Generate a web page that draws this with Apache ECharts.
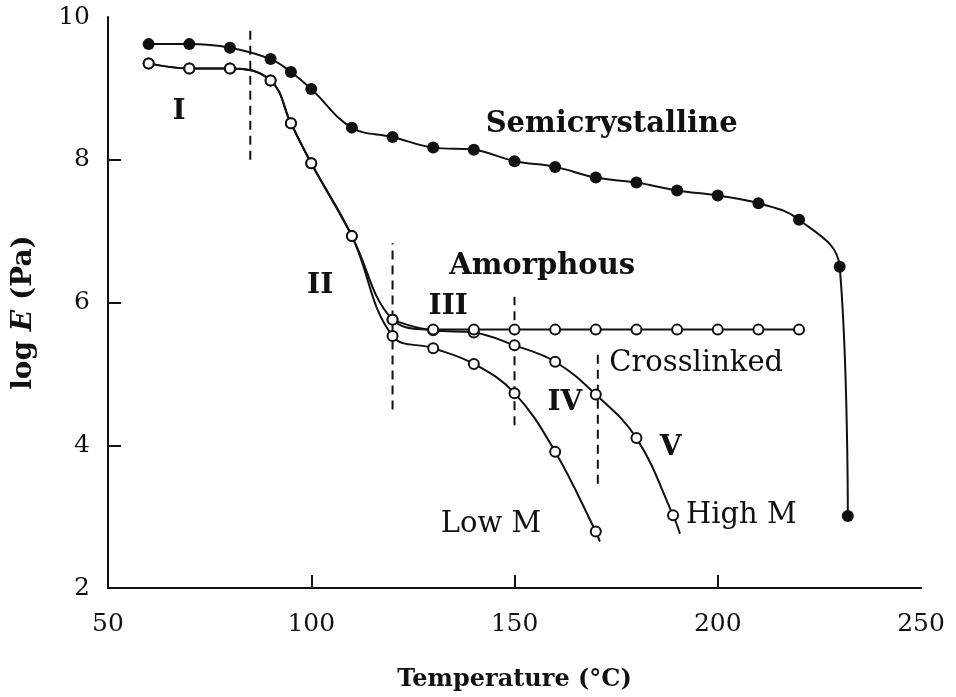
<!DOCTYPE html>
<html>
<head>
<meta charset="utf-8">
<script src="https://cdn.jsdelivr.net/npm/echarts@6/dist/echarts.min.js"></script>
<style>
  html, body { margin: 0; padding: 0; background: #fff; }
  #chart { width: 956px; height: 697px; }
</style>
</head>
<body>
<div id="chart"></div>
<script>
// Semicrystalline polymer: temperature (°C) and log E (Pa)
const semiT    = [60, 70, 80, 90, 95, 100, 110, 120, 130, 140, 150, 160, 170, 180, 190, 200, 210, 220, 230, 232];
const semiLogE = [9.62, 9.62, 9.57, 9.41, 9.23, 8.99, 8.45, 8.32, 8.17, 8.14, 7.98, 7.90, 7.75, 7.68, 7.57, 7.50, 7.39, 7.16, 6.50, 3.01];

// Amorphous polymer, common part (glassy region and glass transition)
const amorT    = [60, 70, 80, 90, 95, 100, 110];
const amorLogE = [9.35, 9.28, 9.28, 9.11, 8.51, 7.95, 6.93];

// Low molecular weight branch
const lowT    = [120, 130, 140, 150, 160, 170];
const lowLogE = [5.53, 5.36, 5.14, 4.73, 3.91, 2.79];
const lowTailT = 171, lowTailLogE = 2.65;

// High molecular weight branch
const highT    = [120, 130, 140, 150, 160, 170, 180, 189];
const highLogE = [5.76, 5.61, 5.58, 5.40, 5.17, 4.71, 4.10, 3.02];
const highTailT = 190.7, highTailLogE = 2.76;

// Crosslinked branch (rubbery plateau)
const crossT    = [120, 130, 140, 150, 160, 170, 180, 190, 200, 210, 220];
const crossLogE = [5.76, 5.62, 5.62, 5.62, 5.62, 5.62, 5.62, 5.62, 5.62, 5.62, 5.62];

// Region boundaries: temperature, lower and upper log E
const boundT    = [85, 120, 150, 170.5];
const boundLow  = [8.0, 4.5, 4.28, 3.46];
const boundHigh = [9.82, 6.83, 6.08, 5.33];

// Text annotations placed in data coordinates
const noteText = ['I', 'II', 'III', 'IV', 'V', 'Semicrystalline', 'Amorphous', 'Crosslinked', 'High M', 'Low M'];
const noteT    = [67.5, 102.2, 133.7, 162.4, 188.4, 173.9, 156.8, 194.7, 205.8, 144.2];
const noteLogE = [8.67, 6.23, 5.94, 4.59, 3.97, 8.49, 6.50, 5.15, 3.02, 2.89];
const noteBold = [true, true, true, true, true, true, true, false, false, false];

// Axis ticks
const xTicks = [100, 150, 200];
const xLabels = [50, 100, 150, 200, 250];
const yTicks = [4, 6, 8];
const yLabels = [2, 4, 6, 8, 10];

const FONT = 'DejaVu Serif';
const INK = '#111';

function pairs(xs, ys) { return xs.map((x, i) => [x, ys[i]]); }

const openCircle = {
  symbol: 'circle',
  symbolSize: 10,
  itemStyle: { color: '#fff', borderColor: INK, borderWidth: 2 }
};
const lineStyle = { color: INK, width: 2 };
const SMOOTH = 0.4;

const series = [];

// Amorphous curves (low M and high M share the early points)
series.push(Object.assign({
  type: 'line', name: 'Low M', smooth: SMOOTH,
  lineStyle: lineStyle,
  data: pairs(amorT, amorLogE).concat(pairs(lowT, lowLogE))
        .concat([{ value: [lowTailT, lowTailLogE], symbol: 'none' }])
}, openCircle));

series.push(Object.assign({
  type: 'line', name: 'High M', smooth: SMOOTH,
  lineStyle: lineStyle,
  data: pairs(amorT, amorLogE).concat(pairs(highT, highLogE))
        .concat([{ value: [highTailT, highTailLogE], symbol: 'none' }])
}, openCircle));

series.push(Object.assign({
  type: 'line', name: 'Crosslinked', smooth: SMOOTH,
  lineStyle: lineStyle,
  data: pairs(crossT, crossLogE)
}, openCircle));

// Semicrystalline curve (filled markers)
series.push({
  type: 'line', name: 'Semicrystalline', smooth: SMOOTH,
  symbol: 'circle', symbolSize: 12,
  itemStyle: { color: INK },
  lineStyle: lineStyle,
  data: pairs(semiT, semiLogE)
});

// Dashed region boundaries
boundT.forEach((t, i) => {
  series.push({
    type: 'line', symbol: 'none', silent: true,
    lineStyle: { color: INK, width: 2, type: [9, 6] },
    data: [[t, boundLow[i]], [t, boundHigh[i]]]
  });
});

// Annotations
series.push({
  type: 'scatter', symbolSize: 0, silent: true,
  itemStyle: { opacity: 1 },
  data: noteText.map((txt, i) => ({
    value: [noteT[i], noteLogE[i]],
    label: {
      show: true, position: 'inside', formatter: txt,
      fontFamily: FONT, color: INK, opacity: 1,
      fontWeight: noteBold[i] ? 'bold' : 'normal',
      fontSize: i < 5 ? 28 : 29
    }
  }))
});

const chart = echarts.init(document.getElementById('chart'), null, { renderer: 'canvas' });
chart.setOption({
  animation: false,
  backgroundColor: '#fff',
  grid: { left: 108, right: 35, top: 17, bottom: 109, containLabel: false },
  xAxis: {
    type: 'value', min: 50, max: 250, interval: 50,
    name: 'Temperature (°C)', nameLocation: 'middle', nameGap: 80,
    nameTextStyle: { fontFamily: FONT, fontWeight: 'bold', fontSize: 24, color: INK },
    axisLine: { lineStyle: { color: INK, width: 2 } },
    axisTick: { inside: true, length: 13, lineStyle: { color: INK, width: 2 }, customValues: xTicks },
    axisLabel: { customValues: xLabels, margin: 24, fontFamily: FONT, fontSize: 25, color: INK },
    splitLine: { show: false }
  },
  yAxis: {
    type: 'value', min: 2, max: 10, interval: 2,
    name: 'log {it|E} (Pa)', nameLocation: 'middle', nameGap: 70, nameRotate: 90,
    nameTextStyle: {
      fontFamily: FONT, fontWeight: 'bold', fontSize: 28, color: INK,
      padding: [0, 20, 0, 0],
      rich: { it: { fontFamily: FONT, fontWeight: 'bold', fontStyle: 'italic', fontSize: 28, color: INK } }
    },
    axisLine: { lineStyle: { color: INK, width: 2 } },
    axisTick: { inside: true, length: 13, lineStyle: { color: INK, width: 2 }, customValues: yTicks },
    axisLabel: { customValues: yLabels, margin: 18, fontFamily: FONT, fontSize: 25, color: INK },
    splitLine: { show: false }
  },
  series: series
});
</script>
</body>
</html>
